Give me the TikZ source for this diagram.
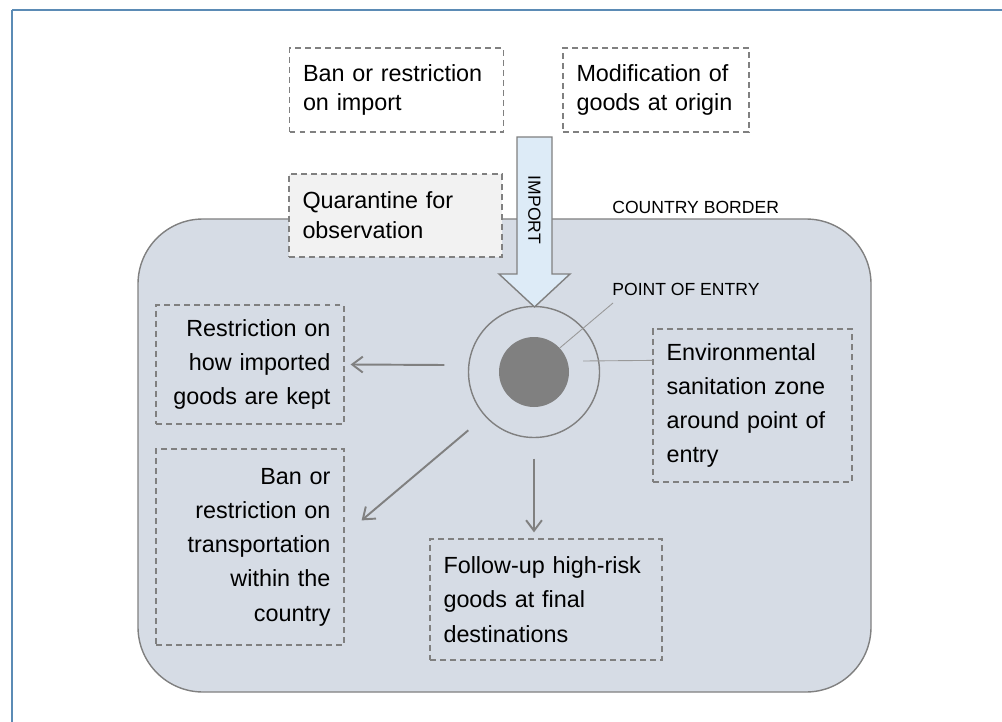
\documentclass[tikz,border=0pt]{standalone}
\usepackage{fontspec}
\setmainfont{Liberation Sans}
\usetikzlibrary{calc,arrows.meta}
\definecolor{frameblue}{HTML}{5B8BB5}
\definecolor{countryfill}{HTML}{D6DCE5}
\definecolor{linegray}{HTML}{808080}
\definecolor{importfill}{HTML}{DDEBF7}
\definecolor{quarfill}{HTML}{F2F2F2}
\begin{document}
\begin{tikzpicture}[
	box/.style 2 args={draw=linegray, dash pattern=on 3.4pt off 2.3pt, line width=0.7pt,
		inner xsep=0.27cm, inner ysep=0pt, text width=#1, minimum height=#2,
		font=\fontsize{13.3}{19.5}\selectfont, align=left},
	topbox/.style={font=\fontsize{13.3}{17}\selectfont},
	lbl/.style={font=\fontsize{10}{12}\selectfont, inner sep=0pt},
	arr/.style={-{Straight Barb[length=6pt,width=9pt]}, draw=linegray, line width=1.1pt},
	lead/.style={draw=linegray!80, line width=0.5pt}
]
	\useasboundingbox (0,0) rectangle (20.04,-14.44);

	% Draw the frame
	\draw[frameblue, line width=1.3pt] (0.24,-14.44) -- (0.24,-0.2);
	\draw[frameblue, line width=0.8pt] (0.24,-0.2) -- (20.04,-0.2);

	% Draw the country
	\draw[draw=linegray, line width=0.8pt, fill=countryfill, rounded corners=1.3cm]
		(2.76,-4.38) rectangle (17.42,-13.84);

	% Point of entry and the zone round it
	\node[circle, draw=linegray, line width=0.8pt, minimum size=2.62cm, inner sep=0pt] (zone) at (10.68,-7.44) {};
	\node[circle, fill=linegray, minimum size=1.4cm, inner sep=0pt] (poe) at (zone.center) {};

	% Measures outside the country
	\node[box={3.74cm}{1.68cm}, topbox] (ban) at (7.93,-1.8) {Ban or restriction\\on import};
	\node[box={3.18cm}{1.68cm}, topbox] (modif) at (13.12,-1.8) {Modification of\\goods at origin};
	\node[box={3.72cm}{1.66cm}, topbox, fill=quarfill] (quar) at (7.91,-4.31) {Quarantine for\\observation};

	% Measures inside the country
	\node[box={3.22cm}{2.38cm}, align=right] (kept) at (5.0,-7.29) {Restriction on\\how imported\\goods are kept};
	\node[box={3.22cm}{3.92cm}, align=right] (trans) at (5.0,-10.94) {Ban or\\restriction on\\transportation\\within the\\country};
	\node[box={4.10cm}{2.42cm}] (follow) at (10.92,-11.99) {Follow-up high-risk\\goods at final\\destinations};
	\node[box={3.44cm}{3.06cm}] (env) at (15.05,-8.11) {Environmental\\sanitation zone\\around point of\\entry};

	% Draw the import arrow
	\draw[draw=linegray, line width=0.8pt, fill=importfill]
		(10.34,-2.74) -- (11.04,-2.74) -- (11.04,-5.48) -- (11.40,-5.48)
		-- (10.69,-6.14) -- (9.98,-5.48) -- (10.34,-5.48) -- cycle;
	\node[lbl, rotate=-90] (import) at (10.69,-4.2) {IMPORT};

	% Label the border and the point of entry
	\node[lbl, anchor=south west] (border) at (12.24,-4.28) {COUNTRY BORDER};
	\node[lbl, anchor=south west] (poelbl) at (12.24,-5.92) {POINT OF ENTRY};
	\draw[lead] (poe.43) -- ($(poelbl.south west)+(0.02,-0.14)$);
	\draw[lead] ($(zone.center)+(0.98,0.22)$) -- ($(env.north west)+(0,-0.64)$);

	% Draw the arrows
	\draw[arr] ($(zone.west)+(-0.47,0.14)$) -- ($(kept.east)+(0.12,0)$);
	\draw[arr] ($(zone.222)+(-0.33,-0.28)$) -- ($(trans.north east)+(0.34,-1.44)$);
	\draw[arr] ($(zone.south)+(0,-0.41)$) -- ($(follow.north -| zone.south)+(0,0.12)$);
\end{tikzpicture}
\end{document}
